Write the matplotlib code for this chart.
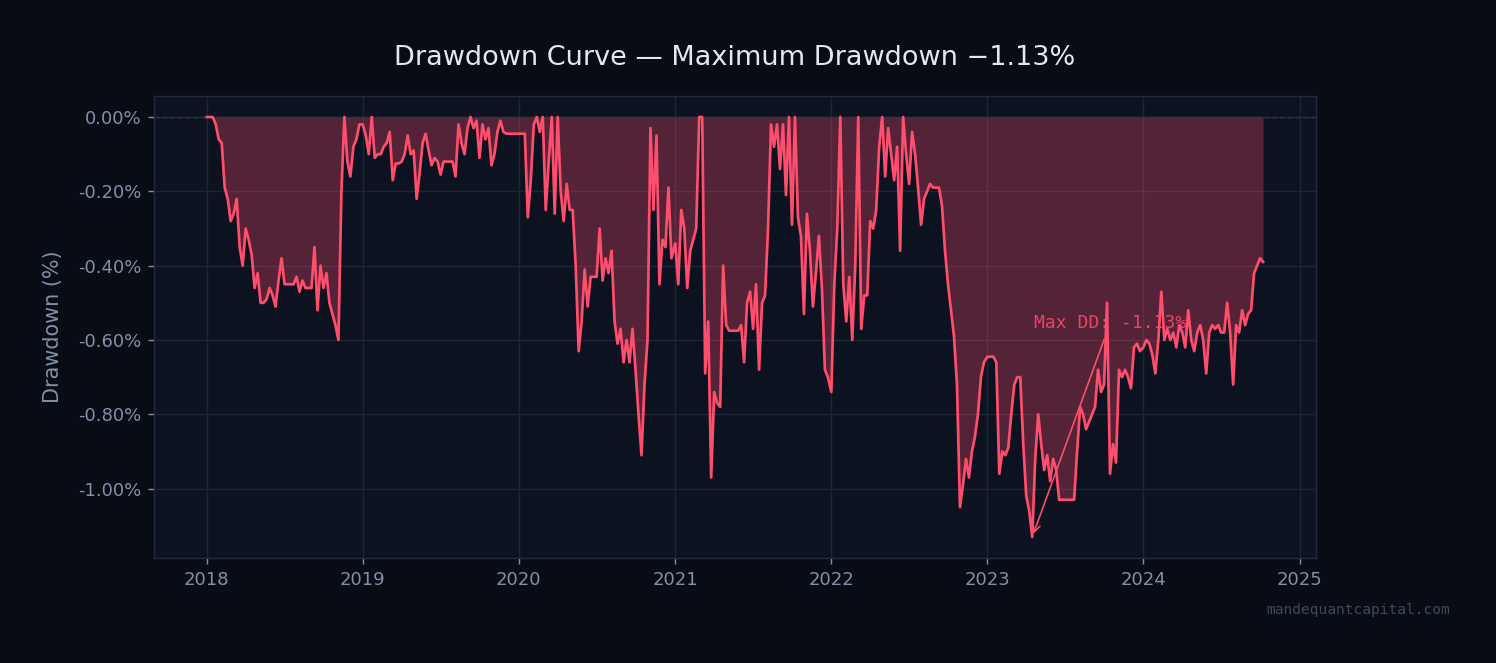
import matplotlib
matplotlib.use("Agg")
import matplotlib.pyplot as plt
import matplotlib.dates as mdates
from matplotlib.ticker import FuncFormatter
import numpy as np
import pandas as pd

# weekly drawdown readings (%), one list per calendar year
dd_2018 = [0.0, 0.0, 0.0, -0.02, -0.06, -0.07, -0.19, -0.22, -0.28, -0.26,
           -0.22, -0.35, -0.40, -0.30, -0.33, -0.37, -0.46, -0.42, -0.50, -0.50,
           -0.49, -0.46, -0.48, -0.51, -0.44, -0.38, -0.45, -0.45, -0.45, -0.45,
           -0.43, -0.47, -0.44, -0.46, -0.46, -0.46, -0.35, -0.52, -0.40, -0.46,
           -0.42, -0.50, -0.53, -0.56, -0.60, -0.20, 0.0, -0.12, -0.16, -0.08,
           -0.06, -0.02]
dd_2019 = [-0.02, -0.05, -0.10, 0.0, -0.11, -0.10, -0.10, -0.08, -0.07, -0.04,
           -0.17, -0.125, -0.125, -0.12, -0.10, -0.05, -0.10, -0.09, -0.22, -0.15,
           -0.07, -0.045, -0.09, -0.13, -0.11, -0.12, -0.155, -0.12, -0.12, -0.12,
           -0.12, -0.16, -0.02, -0.07, -0.10, -0.03, 0.0, -0.03, -0.01, -0.11,
           -0.02, -0.06, -0.03, -0.13, -0.10, -0.04, -0.01, -0.04, -0.045, -0.045,
           -0.045, -0.045]
dd_2020 = [-0.045, -0.045, -0.045, -0.27, -0.17, -0.02, 0.0, -0.04, 0.0, -0.25,
           -0.12, 0.0, -0.26, 0.0, -0.20, -0.28, -0.18, -0.25, -0.25, -0.40,
           -0.63, -0.55, -0.41, -0.51, -0.43, -0.43, -0.43, -0.30, -0.44, -0.38,
           -0.42, -0.36, -0.55, -0.61, -0.57, -0.66, -0.60, -0.66, -0.57, -0.68,
           -0.80, -0.91, -0.72, -0.60, -0.03, -0.25, -0.05, -0.45, -0.33, -0.35,
           -0.19, -0.38]
dd_2021 = [-0.34, -0.45, -0.25, -0.30, -0.46, -0.36, -0.33, -0.30, 0.0, 0.0,
           -0.69, -0.55, -0.97, -0.74, -0.77, -0.78, -0.40, -0.56, -0.575, -0.575,
           -0.575, -0.575, -0.56, -0.66, -0.50, -0.47, -0.57, -0.45, -0.68, -0.50,
           -0.48, -0.30, -0.02, -0.08, -0.02, -0.14, -0.02, -0.21, 0.0, -0.29,
           0.0, -0.27, -0.32, -0.53, -0.26, -0.36, -0.51, -0.42, -0.32, -0.46,
           -0.68, -0.70]
dd_2022 = [-0.74, -0.45, -0.30, 0.0, -0.45, -0.55, -0.43, -0.60, -0.40, 0.0,
           -0.57, -0.48, -0.48, -0.28, -0.30, -0.25, -0.08, 0.0, -0.16, -0.03,
           -0.10, -0.17, -0.08, -0.36, 0.0, -0.10, -0.18, -0.04, -0.10, -0.19,
           -0.29, -0.22, -0.20, -0.18, -0.19, -0.19, -0.19, -0.24, -0.36, -0.45,
           -0.52, -0.59, -0.72, -1.05, -0.99, -0.92, -0.97, -0.90, -0.86, -0.80,
           -0.70, -0.66]
dd_2023 = [-0.645, -0.645, -0.645, -0.66, -0.96, -0.90, -0.91, -0.89, -0.80, -0.72,
           -0.70, -0.70, -0.88, -1.02, -1.06, -1.13, -0.92, -0.80, -0.88, -0.95,
           -0.91, -0.98, -0.92, -0.95, -1.03, -1.03, -1.03, -1.03, -1.03, -1.03,
           -0.90, -0.78, -0.80, -0.84, -0.82, -0.80, -0.78, -0.68, -0.74, -0.72,
           -0.50, -0.96, -0.88, -0.93, -0.68, -0.70, -0.68, -0.70, -0.73, -0.62,
           -0.61, -0.63]
dd_2024 = [-0.62, -0.60, -0.61, -0.64, -0.69, -0.60, -0.47, -0.60, -0.57, -0.60,
           -0.58, -0.62, -0.56, -0.58, -0.62, -0.52, -0.60, -0.63, -0.58, -0.56,
           -0.60, -0.69, -0.58, -0.56, -0.57, -0.56, -0.58, -0.58, -0.50, -0.58,
           -0.72, -0.56, -0.58, -0.52, -0.56, -0.53, -0.52, -0.42, -0.40, -0.38,
           -0.39]

years = [2018, 2019, 2020, 2021, 2022, 2023, 2024]
yearly = [dd_2018, dd_2019, dd_2020, dd_2021, dd_2022, dd_2023, dd_2024]

dates = []
values = []
for yr, vals in zip(years, yearly):
    dates.extend(pd.date_range(f"{yr}-01-01", periods=len(vals), freq="7D"))
    values.extend(vals)
dd = pd.Series(values, index=pd.DatetimeIndex(dates))

max_dd = dd.min()
max_dd_date = dd.idxmin()

BG = "#080c14"
PANEL = "#0c1220"
LINE = "#ff4d6d"
MUTED = "#8090a8"

fig = plt.figure(figsize=(1496 / 130, 663 / 130), dpi=130, facecolor=BG)
ax = fig.add_axes([0.1029, 0.1584, 0.7767, 0.6968])
ax.set_facecolor(PANEL)

ax.fill_between(dd.index, dd.values, 0, color=LINE, alpha=0.3, linewidth=0, zorder=1)
ax.plot(dd.index, dd.values, color=LINE, linewidth=1.5, zorder=3)
ax.axhline(0, color="#2a3548", linewidth=0.8, linestyle="--", zorder=1.2)

ax.annotate(f"Max DD: {max_dd:.2f}%",
            xy=(max_dd_date, max_dd),
            xytext=(pd.Timestamp("2023-04-20"), -0.555),
            ha="left", va="center", color=LINE, alpha=0.85,
            fontsize=10, family="DejaVu Sans Mono", zorder=1.5,
            arrowprops=dict(arrowstyle="->", color=LINE, lw=0.9))

ax.set_title(f"Drawdown Curve \u2014 Maximum Drawdown \u2212{abs(max_dd):.2f}%",
             color="#e2e8f0", fontsize=15, pad=17)
ax.set_ylabel("Drawdown (%)", color=MUTED, fontsize=11.5, labelpad=8)

ax.xaxis.set_major_locator(mdates.YearLocator())
ax.xaxis.set_major_formatter(mdates.DateFormatter("%Y"))
ax.yaxis.set_major_formatter(FuncFormatter(lambda v, _: f"{0 if abs(v) < 1e-9 else v:.2f}%"))

ax.tick_params(colors=MUTED, labelsize=10)
for tick in ax.xaxis.get_major_ticks() + ax.yaxis.get_major_ticks():
    tick.tick1line.set_color("#2a3548")
ax.grid(True, color="#1c2536", linewidth=0.8)
ax.set_axisbelow(True)
for s in ax.spines.values():
    s.set_color("#1e2a3e")

fig.text(0.969, 0.08, "mandequantcapital.com", ha="right", va="center",
         color="#3e4a5c", fontsize=8, family="DejaVu Sans Mono")

fig.savefig("out.png", dpi=130, facecolor=BG)
